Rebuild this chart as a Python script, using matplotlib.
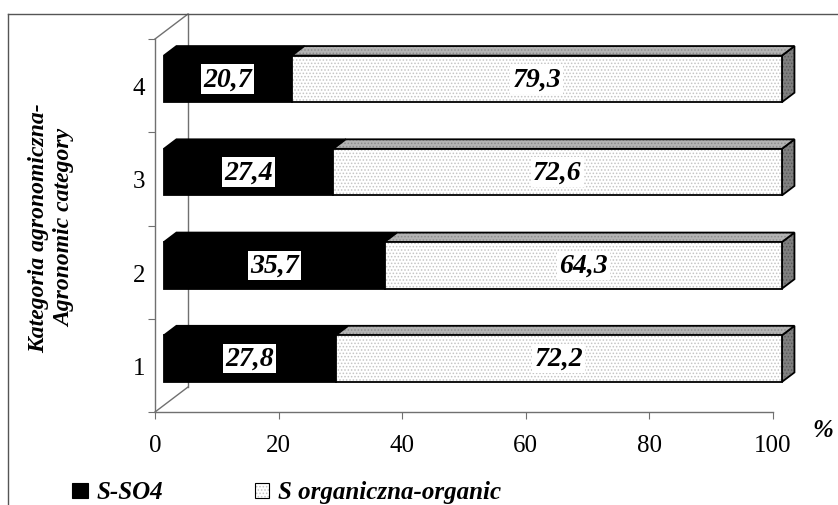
import matplotlib.pyplot as plt
from matplotlib.patches import Polygon, Rectangle
from matplotlib.lines import Line2D

plt.rcParams['font.family'] = ['Liberation Serif', 'DejaVu Serif']
plt.rcParams['hatch.linewidth'] = 0.7

categories = ['1', '2', '3', '4']
s_so4 = [27.8, 35.7, 27.4, 20.7]
s_organic = [72.2, 64.3, 72.6, 79.3]
x_ticks = [0, 20, 40, 60, 80, 100]

W, H = 838, 506
fig = plt.figure(figsize=(W / 100, H / 100), dpi=100)
ax = fig.add_axes([155 / W, 93 / H, 618 / W, 373 / H])
ax.set_xlim(0, 100)
ax.set_ylim(0.5, 4.5)

axis_col = '#707070'

# oblique depth of the excel-like 3d box, pixels -> data units
ux = 100 / 618
uy = 4 / 373
depth = (33 * ux, 25 * uy)
f_front, f_back = 0.27, 0.65
bar_h = 0.5


def shift(pts, f):
    return [(x + depth[0] * f, y + depth[1] * f) for x, y in pts]


def face(pts, color, hatch=None, hatch_col=None):
    ax.add_patch(Polygon(pts, closed=True, facecolor=color, hatch=hatch,
                         edgecolor=hatch_col if hatch else color, lw=0, clip_on=False))
    ax.add_patch(Polygon(pts, closed=True, fill=False, edgecolor='black',
                         lw=1.3, joinstyle='miter', clip_on=False))


def bar3d(left, width, yc, front_col, top_col, side_col, hatch=None, side=True):
    y0, y1 = yc - bar_h / 2, yc + bar_h / 2
    x1 = left + width
    if side:
        face(shift([(x1, y0), (x1, y1)], f_front) + shift([(x1, y1), (x1, y0)], f_back),
             side_col, hatch, '#5a5a5a')
    face(shift([(left, y1), (x1, y1)], f_front) + shift([(x1, y1), (left, y1)], f_back),
         top_col, hatch, '#8c8c8c')
    face(shift([(left, y0), (x1, y0), (x1, y1), (left, y1)], f_front),
         front_col, hatch, '#c4c4c4')


def fmt(v):
    return f'{v:.1f}'.replace('.', ',')


for i, cat in enumerate(categories):
    yc = i + 1
    bar3d(0, s_so4[i], yc, 'black', 'black', 'black', side=False)
    bar3d(s_so4[i], s_organic[i], yc, 'white', '#b4b4b4', '#808080', hatch='.....')
    for left, val in [(0, s_so4[i]), (s_so4[i], s_organic[i])]:
        tx, ty = shift([(left + val / 2, yc)], f_front)[0]
        ax.text(tx, ty, fmt(val), ha='center', va='center', fontsize=20,
                fontweight='bold', fontstyle='italic', zorder=5,
                bbox=dict(boxstyle='square,pad=0.08', facecolor='white', edgecolor='none'))

# walls of the 3d box
for (xa, ya), (xb, yb) in [((0, 4.5), (depth[0], 4.5 + depth[1])),
                           ((0, 0.5), (depth[0], 0.5 + depth[1])),
                           ((depth[0], 0.5 + depth[1]), (depth[0], 4.5 + depth[1]))]:
    ax.add_line(Line2D([xa, xb], [ya, yb], color=axis_col, lw=1, clip_on=False, zorder=0.5))

for s in ['top', 'right']:
    ax.spines[s].set_visible(False)
for s in ['left', 'bottom']:
    ax.spines[s].set_color(axis_col)
    ax.spines[s].set_linewidth(1)

ax.set_xticks(x_ticks)
ax.set_xticklabels([str(t) for t in x_ticks])
ax.tick_params(axis='x', length=5, color=axis_col, labelsize=18, pad=11)
ax.set_yticks([0.5, 1.5, 2.5, 3.5, 4.5])
ax.set_yticklabels([])
ax.set_yticks([1, 2, 3, 4], minor=True)
ax.set_yticklabels(categories, minor=True)
ax.tick_params(axis='y', which='major', length=5, color=axis_col)
ax.tick_params(axis='y', which='minor', length=0, labelsize=18, pad=7)
ax.set_facecolor('none')

fig.text(823 / W, 1 - 431 / H, '%', ha='center', va='center', fontsize=18,
         fontweight='bold', fontstyle='italic')
fig.text(52 / W, 1 - 228 / H, 'Kategoria agronomiczna-\nAgronomic category',
         rotation=90, ha='center', va='center', multialignment='center',
         fontsize=17, fontweight='bold', fontstyle='italic', linespacing=1.3)

# legend
leg_y = 1 - 499 / H
fig.add_artist(Rectangle((72 / W, leg_y), 16 / W, 15 / H, transform=fig.transFigure,
                         facecolor='black', edgecolor='black', lw=0.8))
fig.text(97 / W, leg_y, 'S-SO4', ha='left', va='baseline', fontsize=18,
         fontweight='bold', fontstyle='italic')
fig.add_artist(Rectangle((255 / W, leg_y), 14 / W, 15 / H, transform=fig.transFigure,
                         facecolor='white', edgecolor='#c4c4c4', hatch='.....', lw=0))
fig.add_artist(Rectangle((255 / W, leg_y), 14 / W, 15 / H, transform=fig.transFigure,
                         fill=False, edgecolor='black', lw=0.8))
fig.text(278 / W, leg_y, 'S organiczna-organic', ha='left', va='baseline', fontsize=18,
         fontweight='bold', fontstyle='italic')

# chart area border
fig.add_artist(Line2D([8 / W, 1], [1 - 15 / H, 1 - 15 / H], transform=fig.transFigure,
                      color='#555555', lw=1))
fig.add_artist(Line2D([8 / W, 8 / W], [0, 1 - 15 / H], transform=fig.transFigure,
                      color='#555555', lw=1))

fig.savefig('out.png', dpi=100)
